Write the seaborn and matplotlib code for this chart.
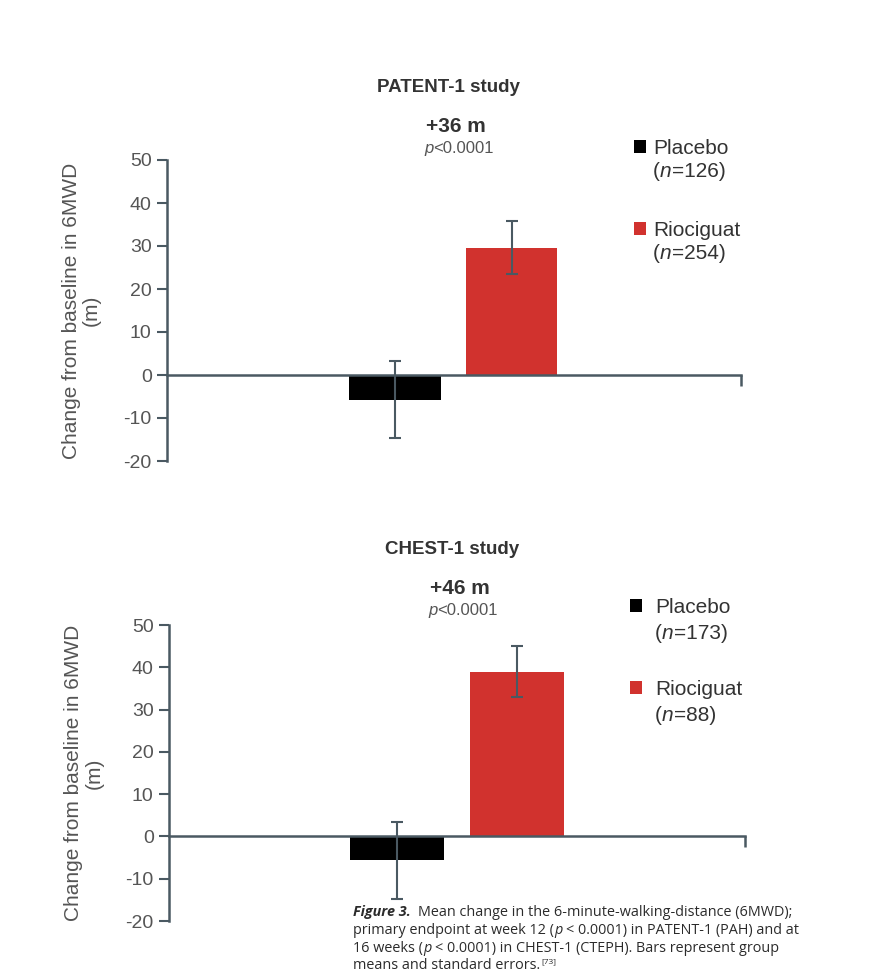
import matplotlib
matplotlib.use("Agg")
import matplotlib.pyplot as plt
from matplotlib.patches import Rectangle
from matplotlib.font_manager import FontProperties
import pandas as pd
import seaborn as sns

# ---- data -------------------------------------------------------------
groups = ["Placebo", "Riociguat"]

patent_change = [-5.7, 29.6]   # mean change in 6MWD (m)
patent_se = [9.0, 6.1]         # standard error
patent_n = [126, 254]

chest_change = [-5.6, 39.0]
chest_se = [9.1, 6.0]
chest_n = [173, 88]

study_titles = ["PATENT-1 study", "CHEST-1 study"]
differences = ["+36 m", "+46 m"]
p_value = "<0.0001"
yticks = [-20, -10, 0, 10, 20, 30, 40, 50]
ylabel = "Change from baseline in 6MWD\n(m)"

# ---- style ------------------------------------------------------------
W, H = 872, 973
bar_colors = ["#000000", "#d1322e"]
axis_color = "#4a5962"
tick_color = "#555555"
title_color = "#333333"

sns.set_theme(style="white")
plt.rcParams["font.family"] = ["Liberation Sans", "DejaVu Sans"]
plt.rcParams["axes.unicode_minus"] = False

fig = plt.figure(figsize=(W / 100, H / 100), dpi=100)
renderer = fig.canvas.get_renderer()


def fx(px):
    return px / W


def fy(py):
    return 1 - py / H


def advance(s, fp):
    t1 = fig.text(0, 0, "|" + s + "|", fontproperties=fp)
    t2 = fig.text(0, 0, "||", fontproperties=fp)
    w = t1.get_window_extent(renderer).width - t2.get_window_extent(renderer).width
    t1.remove()
    t2.remove()
    return w


def text_runs(x, y, pieces, color, ha="left", va="baseline"):
    """Draw consecutive text pieces with mixed styles on one line."""
    widths = [advance(s, fp) for s, fp in pieces]
    if ha == "center":
        x -= sum(widths) / 2
    for (s, fp), w in zip(pieces, widths):
        fig.text(fx(x), fy(y), s, fontproperties=fp, color=color,
                 ha="left", va=va)
        x += w


def fp(family="Liberation Sans", size=15, weight="normal", style="normal"):
    return FontProperties(family=family, size=size, weight=weight, style=style)


def draw_panel(rect, change, se, xlim):
    ax = fig.add_axes(rect)
    df = pd.DataFrame({"group": groups, "change": change})
    sns.barplot(data=df, x="group", y="change", hue="group",
                palette=bar_colors, saturation=1, width=0.78,
                errorbar=None, legend=False, linewidth=0, ax=ax)
    ax.errorbar(range(len(groups)), change, yerr=se, fmt="none",
                ecolor=axis_color, elinewidth=1.5, capsize=4,
                capthick=1.5, zorder=5)
    ax.set_ylim(yticks[0], yticks[-1])
    ax.set_xlim(*xlim)
    ax.set_yticks(yticks)
    ax.set_yticklabels([str(t) for t in yticks])
    ax.set_xticks([xlim[1]])
    ax.set_xticklabels([""])
    ax.spines["bottom"].set_position(("data", 0))
    for side in ["top", "right"]:
        ax.spines[side].set_visible(False)
    for side in ["left", "bottom"]:
        ax.spines[side].set_color(axis_color)
        ax.spines[side].set_linewidth(1.8)
    ax.tick_params(axis="y", direction="out", length=7, width=1.5,
                   color=axis_color, labelsize=14, labelcolor=tick_color,
                   pad=4, left=True)
    ax.tick_params(axis="x", direction="out", length=8, width=1.8,
                   color=axis_color, bottom=True)
    ax.set_xlabel("")
    ax.set_ylabel(ylabel, fontsize=15, color=tick_color, linespacing=1.1,
                  labelpad=16)
    ax.set_facecolor("none")
    return ax


# ---- panels -------------------------------------------------------------
draw_panel([fx(167), fy(461), 574 / W, 301 / H],
           patent_change, patent_se, (-1.95, 2.96))
draw_panel([fx(169), fy(921), 576 / W, 296 / H],
           chest_change, chest_se, (-1.90, 2.90))

# ---- headings -----------------------------------------------------------
p_reg = fp(size=12)
p_it = fp(size=12, style="italic")
for title, diff, ty, dy, py, cx in [
    (study_titles[0], differences[0], 87, 127, 153, 448),
    (study_titles[1], differences[1], 549, 588, 615, 452),
]:
    fig.text(fx(cx), fy(ty), title, fontsize=13.5, fontweight="bold",
             color=title_color, ha="center", va="center")
    fig.text(fx(cx + 8), fy(dy), diff, fontsize=15, fontweight="bold",
             color=title_color, ha="center", va="center")
    text_runs(cx + 11, py, [("p", p_it), (p_value, p_reg)],
              color=tick_color, ha="center")

# ---- legends ------------------------------------------------------------
leg_reg = fp(size=15)
leg_it = fp(size=15, style="italic")
for sq_x, txt_x, rows, counts in [
    (634, 653, [147, 170, 229, 252], patent_n),
    (630, 655, [606, 632, 688, 714], chest_n),
]:
    for i, (name, n) in enumerate(zip(groups, counts)):
        y_name, y_n = rows[2 * i], rows[2 * i + 1]
        fig.add_artist(Rectangle((fx(sq_x), fy(y_name + 6)), 12 / W, 13 / H,
                                 transform=fig.transFigure,
                                 facecolor=bar_colors[i], edgecolor="none"))
        fig.text(fx(txt_x), fy(y_name + 7), name, fontproperties=leg_reg,
                 color=title_color, ha="left", va="baseline")
        text_runs(txt_x, y_n + 7,
                  [("(", leg_reg), ("n", leg_it), (f"={n})", leg_reg)],
                  color=title_color)

# ---- figure caption -------------------------------------------------------
cap_size = 10.4
cap_reg = fp("Open Sans", cap_size)
cap_it = fp("Open Sans", cap_size, style="italic")
cap_bi = fp("Open Sans", cap_size, weight="bold", style="italic")
cap_sup = fp("Open Sans", 6)
cap_color = "#2b2b2b"
cap_x = 353
text_runs(cap_x, 916, [("Figure 3.  ", cap_bi),
                       ("Mean change in the 6-minute-walking-distance (6MWD);", cap_reg)],
          color=cap_color)
text_runs(cap_x, 934, [("primary endpoint at week 12 (", cap_reg), ("p ", cap_it),
                       ("< 0.0001) in PATENT-1 (PAH) and at", cap_reg)],
          color=cap_color)
text_runs(cap_x, 952, [("16 weeks (", cap_reg), ("p ", cap_it),
                       ("< 0.0001) in CHEST-1 (CTEPH). Bars represent group", cap_reg)],
          color=cap_color)
w_last = advance("means and standard errors.", cap_reg)
fig.text(fx(cap_x), fy(969), "means and standard errors.", fontproperties=cap_reg,
         color=cap_color, ha="left", va="baseline")
fig.text(fx(cap_x + w_last + 1), fy(963), "[73]", fontproperties=cap_sup,
         color=cap_color, ha="left", va="baseline")

fig.savefig("out.png", dpi=100, facecolor="white")
